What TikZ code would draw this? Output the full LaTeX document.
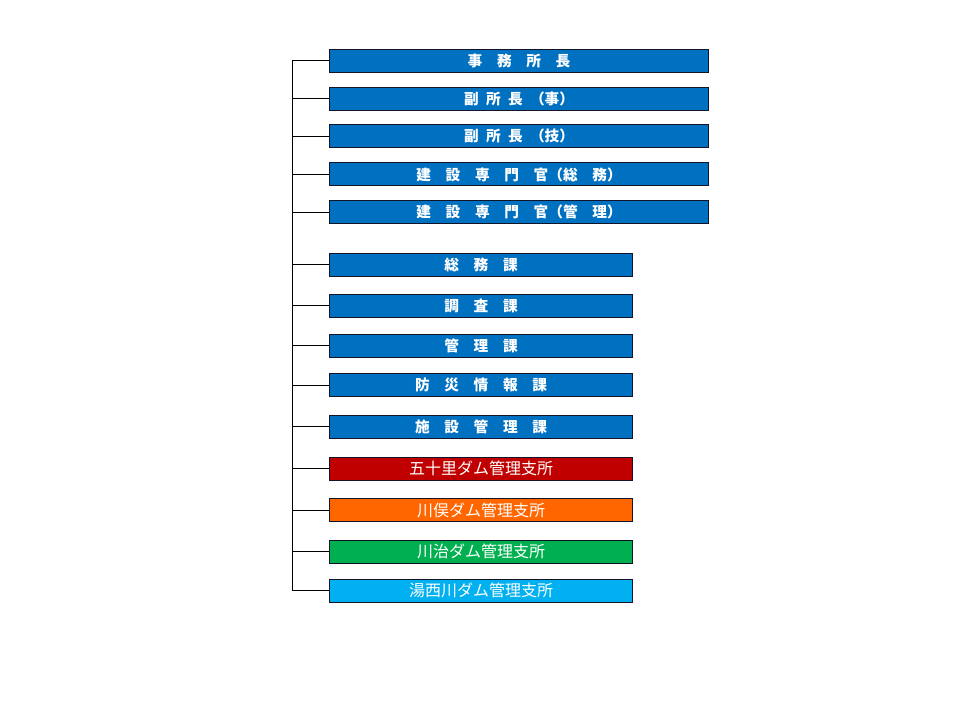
\documentclass[tikz,border=0pt]{standalone}
\usepackage{fontspec}
\newfontfamily\jpfont{Noto Sans CJK JP}
\definecolor{officeblue}{RGB}{0,112,192}
\definecolor{ikarired}{RGB}{192,0,0}
\definecolor{kawamataorange}{RGB}{255,102,0}
\definecolor{kawajigreen}{RGB}{0,176,80}
\definecolor{yunishigawablue}{RGB}{0,176,240}
\tikzset{
	box/.style={draw={rgb, 255:red, 20; green, 20; blue, 40}, line width=0.75pt, anchor=west, inner sep=0pt, minimum height=17.25pt, text=white, font=\jpfont},
	office/.style={box, fill=officeblue, minimum width=283.8pt, font=\jpfont\bfseries\fontsize{11}{12}\selectfont},
	section/.style={box, fill=officeblue, minimum width=226.8pt, font=\jpfont\bfseries\fontsize{11}{12}\selectfont},
	branch/.style={box, minimum width=226.8pt, font=\jpfont\fontsize{12}{14}\selectfont}}
\tikzset{every picture/.style={line width=0.75pt}}
\begin{document}
\begin{tikzpicture}[x=0.75pt,y=0.75pt,yscale=-1,xscale=1]
	%set diagram to the page size
	\useasboundingbox (0,0) rectangle (960,720);
	\coordinate (spine) at (292,0);

	% Office
	\node [office] (chief) at (329.3,60.8) {事　務　所　長};
	\node [office] (deputyadm) at (329.3,98.8) {副\enspace 所\enspace 長\enspace（事）};
	\node [office] (deputytech) at (329.3,136.3) {副\enspace 所\enspace 長\enspace（技）};
	\node [office] (expertgen) at (329.3,174.5) {建　設　専　門　官（総　務）};
	\node [office] (expertmng) at (329.3,212.3) {建　設　専　門　官（管　理）};

	% Sections
	\node [section] (general) at (329.3,264.7) {総　務　課};
	\node [section] (survey) at (329.3,305.8) {調　査　課};
	\node [section] (management) at (329.3,345.8) {管　理　課};
	\node [section] (disaster) at (329.3,385.3) {防　災　情　報　課};
	\node [section] (facility) at (329.3,426.7) {施　設　管　理　課};

	% Branch offices
	\node [branch, fill=ikarired] (ikari) at (329.3,468.8) {五十里ダム管理支所};
	\node [branch, fill=kawamataorange] (kawamata) at (329.3,510.2) {川俣ダム管理支所};
	\node [branch, fill=kawajigreen] (kawaji) at (329.3,551.7) {川治ダム管理支所};
	\node [branch, fill=yunishigawablue] (yunishigawa) at (329.3,590.8) {湯西川ダム管理支所};

	%Straight Lines
	\draw (chief.west -| spine) -- (yunishigawa.west -| spine);
	\draw (chief.west -| spine) -- (chief.west);
	\draw (deputyadm.west -| spine) -- (deputyadm.west);
	\draw (deputytech.west -| spine) -- (deputytech.west);
	\draw (expertgen.west -| spine) -- (expertgen.west);
	\draw (expertmng.west -| spine) -- (expertmng.west);
	\draw (general.west -| spine) -- (general.west);
	\draw (survey.west -| spine) -- (survey.west);
	\draw (management.west -| spine) -- (management.west);
	\draw (disaster.west -| spine) -- (disaster.west);
	\draw (facility.west -| spine) -- (facility.west);
	\draw (ikari.west -| spine) -- (ikari.west);
	\draw (kawamata.west -| spine) -- (kawamata.west);
	\draw (kawaji.west -| spine) -- (kawaji.west);
	\draw (yunishigawa.west -| spine) -- (yunishigawa.west);
\end{tikzpicture}
\end{document}
